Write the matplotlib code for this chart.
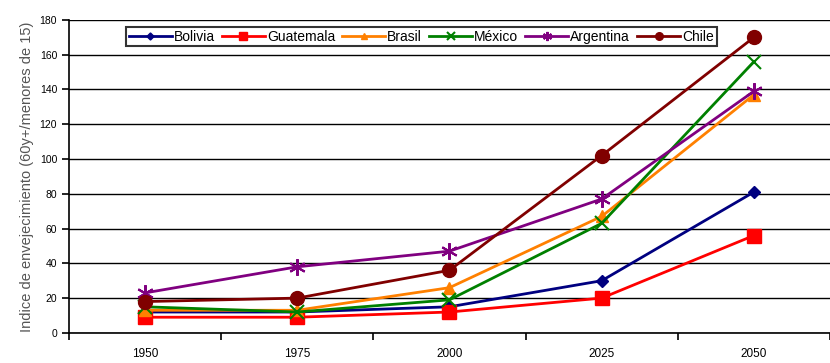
import matplotlib
matplotlib.use("Agg")
import matplotlib.pyplot as plt

years = ["1950", "1975", "2000", "2025", "2050"]
bolivia = [12, 12, 15, 30, 81]
guatemala = [9, 9, 12, 20, 56]
brasil = [13, 13, 26, 67, 137]
mexico = [15, 12, 19, 63, 156]
argentina = [23, 38, 47, 77, 139]
chile = [18, 20, 36, 102, 170]

series = [
    ("Bolivia", bolivia, "#000080", "D", 6.5),
    ("Guatemala", guatemala, "#FF0000", "s", 10.5),
    ("Brasil", brasil, "#FF8000", "^", 9),
    ("México", mexico, "#008000", "x", 10),
    ("Argentina", argentina, "#800080", (6, 2, 0), 12),
    ("Chile", chile, "#800000", "o", 10),
]

plt.rcParams['font.family'] = ['Liberation Sans', 'DejaVu Sans']

fig = plt.figure(figsize=(8.3, 3.63), dpi=100)
ax = fig.add_axes([0.083, 0.083, 0.917, 0.862])

x = list(range(len(years)))
for name, vals, col, mk, ms in series:
    ax.plot(x, vals, color=col, lw=2, marker=mk, markersize=ms,
            markeredgewidth=1.5 if (mk == "x" or isinstance(mk, tuple)) else 1,
            label=name, zorder=3)

ax.set_xlim(-0.5, 4.5)
ax.set_ylim(0, 180)
ax.set_yticks(range(0, 181, 20))
ax.set_xticks(x)
ax.set_xticklabels(years, fontsize=8.5)
ax.set_xticks([i + 0.5 for i in range(-1, 5)], minor=True)
ax.tick_params(axis='x', which='major', length=0, pad=11)
ax.tick_params(axis='x', which='minor', length=5, width=1.2, direction='out')
ax.tick_params(axis='y', length=5, width=1.2, direction='out', labelsize=7.5)
ax.yaxis.grid(True, color='black', lw=1)
ax.set_axisbelow(True)
for s in ['right', 'top']:
    ax.spines[s].set_visible(False)
ax.spines['left'].set_linewidth(1.2)
ax.spines['bottom'].set_linewidth(1.2)

ax.set_ylabel("Indice de envejecimiento (60y+/menores de 15)", fontsize=10.5,
              color='#555555', labelpad=4)

leg = ax.legend(loc='upper center', bbox_to_anchor=(0.463, 0.978), ncol=6,
                fontsize=10, frameon=True, fancybox=False, edgecolor='black',
                handlelength=3.1, handletextpad=0.15, columnspacing=0.5,
                borderpad=0.2, borderaxespad=0, markerscale=0.55)
leg.get_frame().set_linewidth(1.5)

fig.savefig("out.png", dpi=100)
